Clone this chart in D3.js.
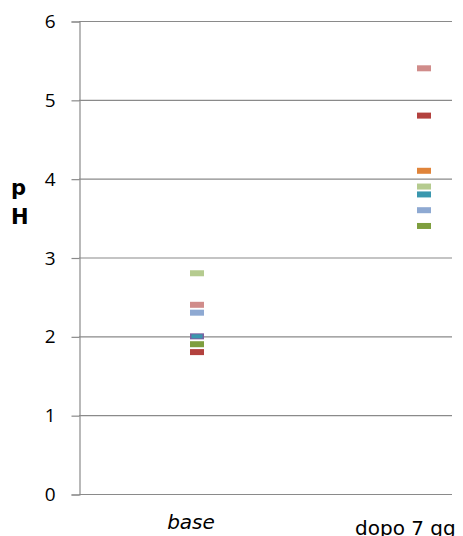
<!DOCTYPE html>
<html>
<head>
<meta charset="utf-8">
<script src="https://cdn.jsdelivr.net/npm/d3@7"></script>
<style>
  body { margin: 0; background: #fff; }
  svg { display: block; }
</style>
</head>
<body>
<svg id="chart" width="463" height="536"></svg>
<script>
// categories on the x axis
const categories = ["base", "dopo 7 gg"];
// one value per category for each series (null = not shown)
const seriesNames = ["s1", "s2", "s3", "s4", "s5", "s6", "s7", "s8"];
const seriesColors = ["#B3413E", "#7E9E3E", "#7D5FA0", "#3A97AE", "#E0843A", "#8EA9D2", "#D08C8A", "#B5CB8F"];
const baseValues = [1.8, 1.9, 2.0, 2.0, null, 2.3, 2.4, 2.8];
const dopoValues = [4.8, 3.4, null, 3.8, 4.1, 3.6, 5.4, 3.9];
const yTicks = [0, 1, 2, 3, 4, 5, 6];

const svg = d3.select("#chart");
const plotLeft = 79, plotRight = 452, plotTop = 21, plotBottom = 494;

// y scale
const y = d3.scaleLinear().domain([0, 6]).range([plotBottom, plotTop]);

// x positions of the two categories
const x = d3.scalePoint().domain(categories).range([197, 424]);

// gridlines
svg.append("g")
  .selectAll("line")
  .data(yTicks.filter(d => d > 0))
  .enter().append("line")
  .attr("x1", plotLeft).attr("x2", plotRight)
  .attr("y1", d => y(d) + 0.5).attr("y2", d => y(d) + 0.5)
  .attr("stroke", "#8a8a8a")
  .attr("stroke-width", 1.2);

// Y axis
const yAxis = d3.axisLeft(y).tickValues(yTicks).tickSize(8).tickPadding(16).tickFormat(d3.format("d"));
const gy = svg.append("g")
  .attr("transform", "translate(" + (plotLeft + 0.5) + ",0.5)")
  .call(yAxis);
gy.select(".domain").attr("stroke", "#8a8a8a").attr("stroke-width", 1.2);
gy.selectAll(".tick line").attr("stroke", "#8a8a8a").attr("stroke-width", 1.2);
gy.selectAll(".tick text")
  .attr("font-family", "'Open Sans', sans-serif")
  .attr("font-size", 19)
  .attr("fill", "#000");

// bottom axis line
svg.append("line")
  .attr("x1", plotLeft).attr("x2", plotRight)
  .attr("y1", plotBottom + 0.5).attr("y2", plotBottom + 0.5)
  .attr("stroke", "#8a8a8a")
  .attr("stroke-width", 1.2);

// category labels
svg.append("text")
  .attr("x", 191).attr("y", 529)
  .attr("text-anchor", "middle")
  .attr("font-family", "'DejaVu Sans', Verdana, sans-serif")
  .attr("font-style", "italic")
  .attr("font-size", 20)
  .text(categories[0]);
svg.append("text")
  .attr("x", 355).attr("y", 535)
  .attr("font-family", "'DejaVu Sans', Verdana, sans-serif")
  .attr("font-size", 20)
  .text(categories[1]);

// Y title "p" / "H"
const yt = svg.append("text")
  .attr("font-family", "'DejaVu Sans', Verdana, sans-serif")
  .attr("font-weight", "bold")
  .attr("font-size", 21);
yt.append("tspan").attr("x", 11).attr("y", 195).text("p");
yt.append("tspan").attr("x", 11).attr("y", 224).text("H");

// markers
const points = [];
seriesNames.forEach((s, i) => {
  if (baseValues[i] != null) points.push({ cat: categories[0], v: baseValues[i], c: seriesColors[i], s });
  if (dopoValues[i] != null) points.push({ cat: categories[1], v: dopoValues[i], c: seriesColors[i], s });
});

// teal sits inside the purple marker where both are 2.0
const inner = d => d.s === "s4" && d.cat === categories[0];

svg.append("g")
  .selectAll("rect")
  .data(points)
  .enter().append("rect")
  .attr("x", d => x(d.cat) - 7)
  .attr("y", d => y(d.v) - 3)
  .attr("width", d => inner(d) ? 11 : 14)
  .attr("height", d => inner(d) ? 4 : 6)
  .attr("transform", d => inner(d) ? "translate(1.5,1)" : null)
  .attr("fill", d => d.c);
</script>
</body>
</html>
